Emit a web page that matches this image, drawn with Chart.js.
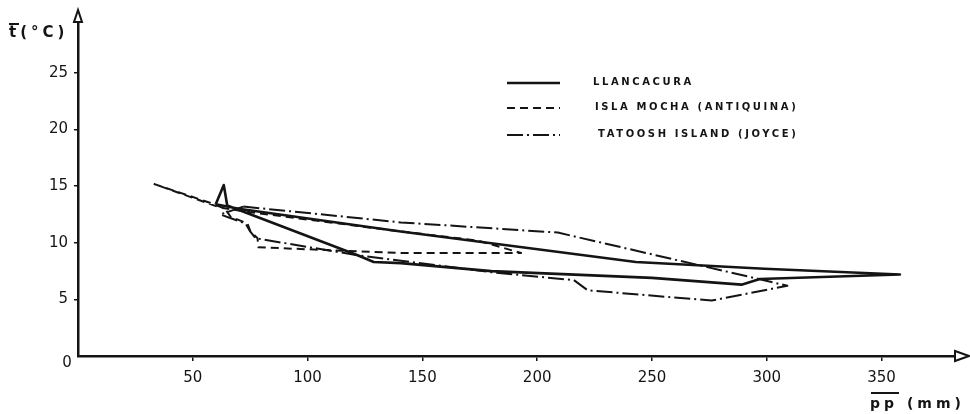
<!DOCTYPE html>
<html><head><meta charset="utf-8">
<script src="https://cdn.jsdelivr.net/npm/chart.js@4/dist/chart.umd.min.js"></script>
<style>html,body{margin:0;padding:0;background:#fff;}#wrap{width:970px;height:414px;}</style>
</head><body><div id="wrap"><canvas id="c" width="970" height="414"></canvas></div>
<script>
// ---- data ----
const xTicks = [50, 100, 150, 200, 250, 300, 350];
const yTicks = [5, 10, 15, 20, 25];
const seriesNames = ['LLANCACURA', 'ISLA MOCHA (ANTIQUINA)', 'TATOOSH ISLAND (JOYCE)'];

const llancacuraPP = [60, 63.5, 65, 121.8, 128.8, 140.6, 180, 250, 289, 297, 358, 299, 243, 140.6, 70, 60];
const llancacuraT  = [13.4, 15.1, 13.3, 8.9, 8.3, 8.2, 7.5, 6.9, 6.3, 6.8, 7.2, 7.7, 8.3, 11.0, 13.0, 13.4];

const mochaPP = [33, 58, 64, 66.5, 73.8, 75.1, 78.2, 78.6, 140.6, 193, 174, 140.6, 75, 62, 33];
const mochaT  = [15.2, 13.5, 13.0, 12.3, 11.7, 11.0, 10.4, 9.6, 9.1, 9.1, 10.2, 11.0, 12.7, 13.1, 15.2];

const tatooshPP = [72, 140.6, 209, 296.5, 309, 276, 222, 216, 180, 121.8, 77.3, 75, 73, 62, 72];
const tatooshT  = [13.2, 11.8, 10.9, 6.8, 6.2, 4.9, 5.8, 6.7, 7.4, 8.9, 10.4, 11.0, 11.7, 12.5, 13.2];

const INK = '#141414';
const FONT = '"DejaVu Sans", sans-serif';
const toPts = (xs, ys) => xs.map((x, i) => ({x: x, y: ys[i]}));

const styles = [
  {borderWidth: 2.6, borderDash: []},
  {borderWidth: 2.0, borderDash: [8, 5]},
  {borderWidth: 2.0, borderDash: [16, 4, 2, 4]}
];

const datasets = [
  toPts(llancacuraPP, llancacuraT),
  toPts(mochaPP, mochaT),
  toPts(tatooshPP, tatooshT)
].map((d, i) => ({
  label: seriesNames[i], data: d, showLine: true, pointRadius: 0, fill: false,
  borderColor: INK, borderWidth: styles[i].borderWidth, borderDash: styles[i].borderDash,
  tension: 0, borderJoinStyle: 'round'
}));

const decor = {
  id: 'decor',
  afterDraw(chart) {
    const ctx = chart.ctx, a = chart.chartArea;
    ctx.save();
    ctx.strokeStyle = INK; ctx.fillStyle = INK;
    // arrows
    ctx.lineWidth = 2; ctx.setLineDash([]);
    ctx.fillStyle = '#fff';
    ctx.beginPath(); ctx.moveTo(a.left, a.top - 12); ctx.lineTo(a.left - 4, a.top); ctx.lineTo(a.left + 4, a.top); ctx.closePath(); ctx.fill(); ctx.stroke();
    ctx.beginPath(); ctx.moveTo(a.right + 14, a.bottom); ctx.lineTo(a.right, a.bottom - 5); ctx.lineTo(a.right, a.bottom + 5); ctx.closePath(); ctx.fill(); ctx.stroke();
    ctx.fillStyle = INK;
    // origin label
    ctx.font = '15px ' + FONT; ctx.textAlign = 'center'; ctx.textBaseline = 'middle';
    ctx.fillText('0', 67, 363);
    // axis titles
    ctx.font = 'bold 15px ' + FONT; ctx.textAlign = 'left';
    ctx.letterSpacing = '4px';
    ctx.fillText('t(°C)', 9, 33);
    ctx.lineWidth = 2;
    ctx.beginPath(); ctx.moveTo(9, 24); ctx.lineTo(19, 24); ctx.stroke();
    ctx.font = 'bold 14px ' + FONT;
    ctx.fillText('pp (mm)', 870, 404);
    ctx.beginPath(); ctx.moveTo(871, 393); ctx.lineTo(899, 393); ctx.stroke();
    // legend
    const rows = [83, 108, 135], tx = [593, 595, 598];
    ctx.font = 'bold 10px ' + FONT; ctx.letterSpacing = '2.6px';
    chart.data.datasets.forEach((ds, i) => {
      ctx.lineWidth = ds.borderWidth; ctx.setLineDash(ds.borderDash);
      ctx.beginPath(); ctx.moveTo(507, rows[i]); ctx.lineTo(560, rows[i]); ctx.stroke();
      ctx.setLineDash([]);
      ctx.textBaseline = 'middle';
      ctx.fillText(ds.label, tx[i], rows[i] - 1);
    });
    ctx.restore();
  }
};

new Chart(document.getElementById('c'), {
  type: 'scatter',
  data: {datasets: datasets},
  options: {
    responsive: false, animation: false, devicePixelRatio: 1,
    layout: {padding: {top: 22, right: 15, bottom: 0, left: 0}},
    plugins: {legend: {display: false}, tooltip: {enabled: false}},
    scales: {
      x: {
        type: 'linear', position: 'bottom', min: 0, max: 382,
        afterBuildTicks: s => { s.ticks = xTicks.map(v => ({value: v})); },
        afterFit: s => { s.height = 58; },
        grid: {display: true, drawOnChartArea: false, drawTicks: true, tickLength: 5, color: INK, lineWidth: 1.5},
        border: {display: true, color: INK, width: 2.5},
        ticks: {color: INK, font: {family: FONT, size: 15}, padding: 8, maxRotation: 0, autoSkip: false}
      },
      y: {
        type: 'linear', min: 0, max: 29.5,
        afterBuildTicks: s => { s.ticks = yTicks.map(v => ({value: v})); },
        afterFit: s => { s.width = 78; },
        grid: {display: true, drawOnChartArea: false, drawTicks: true, tickLength: 4, color: INK, lineWidth: 1.5},
        border: {display: true, color: INK, width: 2.5},
        ticks: {color: INK, font: {family: FONT, size: 15}, padding: 6, autoSkip: false}
      }
    }
  },
  plugins: [decor]
});
</script></body></html>
